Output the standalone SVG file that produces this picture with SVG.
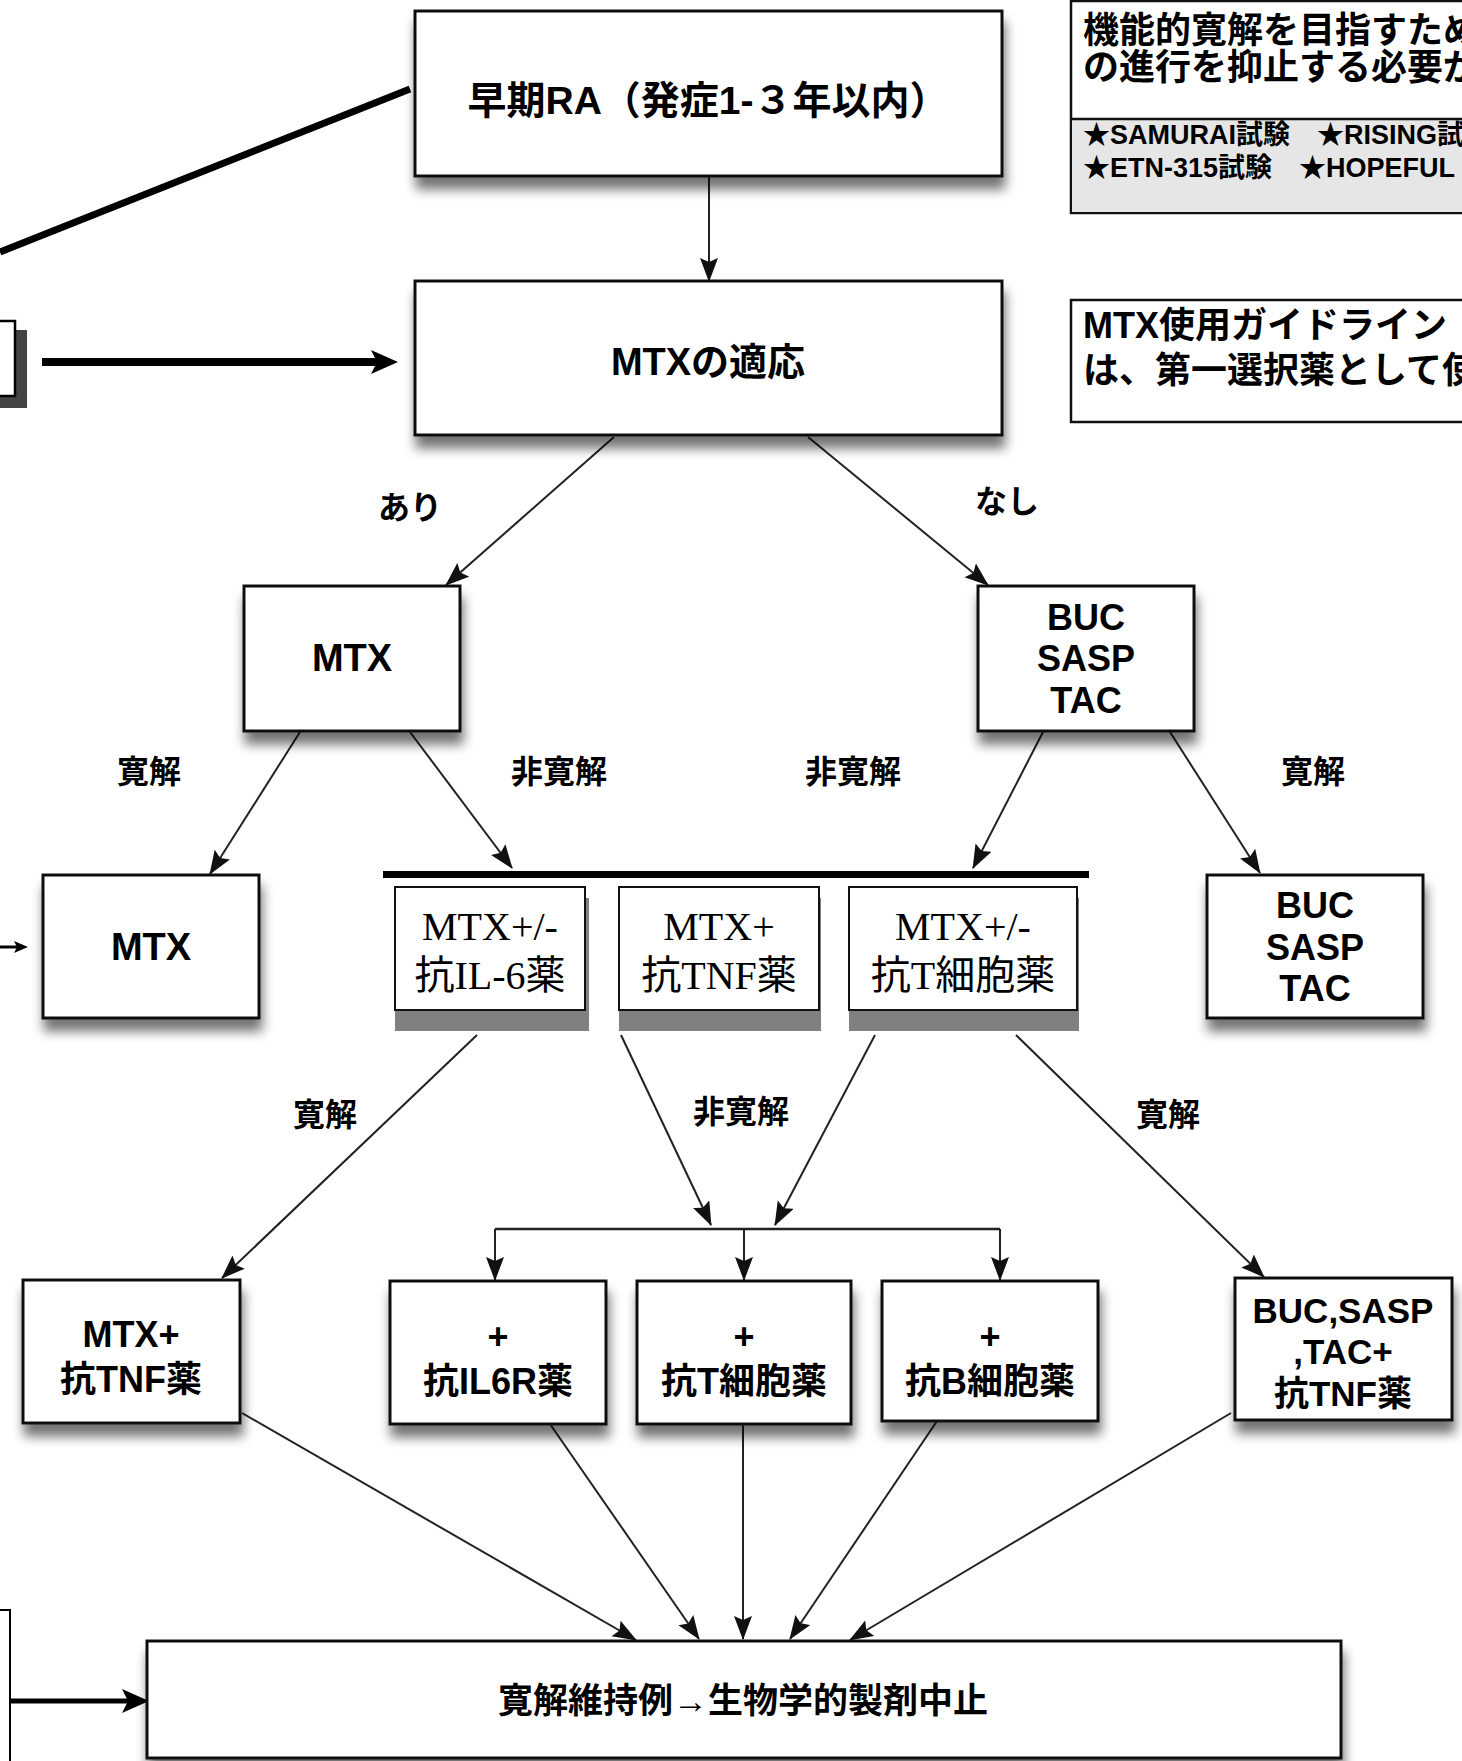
<svg xmlns="http://www.w3.org/2000/svg" width="1462" height="1761" viewBox="0 0 1462 1761">
<defs>
<style>
.box{fill:#fff;stroke:#111;stroke-width:3}
.sbox{fill:#fff;stroke:#111;stroke-width:2}
.note{fill:#fff;stroke:#111;stroke-width:2.5}
.t{font-family:"Liberation Sans","Noto Sans CJK JP",sans-serif;font-weight:bold;fill:#000;text-anchor:middle;dominant-baseline:central}
.tn{font-family:"Liberation Sans","Noto Sans CJK JP",sans-serif;font-weight:bold;fill:#000;dominant-baseline:central}
.ts{font-family:"Liberation Serif","Noto Sans CJK JP",serif;fill:#000;text-anchor:middle;dominant-baseline:central;font-size:40px}
.c{fill:none;stroke:#222;stroke-width:2;marker-end:url(#ah)}
.lbl{font-size:32px}
</style>
<filter id="sh" x="-15%" y="-20%" width="135%" height="160%">
<feGaussianBlur in="SourceAlpha" stdDeviation="6"/>
<feOffset dx="2" dy="12"/>
<feComponentTransfer><feFuncA type="linear" slope="0.55"/></feComponentTransfer>
<feMerge><feMergeNode/><feMergeNode in="SourceGraphic"/></feMerge>
</filter>
<marker id="ah" markerUnits="userSpaceOnUse" markerWidth="26" markerHeight="20" refX="23" refY="9" orient="auto">
<path d="M0,0 L24,9 L0,18 L4,9 z" fill="#111"/>
</marker>
<marker id="ahT" markerUnits="userSpaceOnUse" markerWidth="30" markerHeight="26" refX="13" refY="12" orient="auto">
<path d="M0,0 L27,12 L0,24 L6,12 z" fill="#000"/>
</marker>
<marker id="ahS" markerUnits="userSpaceOnUse" markerWidth="16" markerHeight="14" refX="6" refY="6" orient="auto">
<path d="M0,0 L14,6 L0,12 L3,6 z" fill="#000"/>
</marker>
</defs>

<g id="connectors">
<line x1="0" y1="252" x2="410" y2="89" stroke="#000" stroke-width="7"/>
<line x1="42" y1="362" x2="384" y2="362" stroke="#000" stroke-width="8" marker-end="url(#ahT)"/>
<line x1="10" y1="1701" x2="135" y2="1701" stroke="#000" stroke-width="5" marker-end="url(#ahT)"/>
<line x1="0" y1="947" x2="20" y2="947" stroke="#000" stroke-width="3" marker-end="url(#ahS)"/>
<line class="c" x1="709" y1="176" x2="709" y2="281"/>
<line class="c" x1="614" y1="437" x2="446" y2="585"/>
<line class="c" x1="808" y1="437" x2="988" y2="585"/>
<line class="c" x1="300" y1="732" x2="210" y2="874"/>
<line class="c" x1="410" y1="732" x2="512" y2="868"/>
<line class="c" x1="1043" y1="732" x2="973" y2="868"/>
<line class="c" x1="1170" y1="732" x2="1260" y2="873"/>
<rect x="383" y="871" width="706" height="7" fill="#000"/>
<line class="c" x1="477" y1="1035" x2="222" y2="1278"/>
<line class="c" x1="621" y1="1035" x2="711" y2="1225"/>
<line class="c" x1="875" y1="1035" x2="775" y2="1225"/>
<line class="c" x1="1016" y1="1035" x2="1264" y2="1277"/>
<path d="M495,1229 H1000" fill="none" stroke="#222" stroke-width="2.5"/>
<line class="c" x1="495" y1="1229" x2="495" y2="1280"/>
<line class="c" x1="744" y1="1229" x2="744" y2="1280"/>
<line class="c" x1="1000" y1="1229" x2="1000" y2="1280"/>
<line class="c" x1="242" y1="1413" x2="636" y2="1640"/>
<line class="c" x1="550" y1="1424" x2="699" y2="1639"/>
<line class="c" x1="743" y1="1424" x2="743" y2="1639"/>
<line class="c" x1="937" y1="1421" x2="790" y2="1639"/>
<line class="c" x1="1231" y1="1413" x2="850" y2="1640"/>
<text class="t lbl" x="410" y="508">あり</text>
<text class="t lbl" x="1007" y="502">なし</text>
<text class="t lbl" x="149" y="772">寛解</text>
<text class="t lbl" x="559" y="772">非寛解</text>
<text class="t lbl" x="853" y="772">非寛解</text>
<text class="t lbl" x="1313" y="772">寛解</text>
<text class="t lbl" x="325" y="1115">寛解</text>
<text class="t lbl" x="741" y="1112">非寛解</text>
<text class="t lbl" x="1168" y="1115">寛解</text>
</g>

<g id="left-box-top">
<rect x="-10" y="330" width="37" height="78" fill="#444"/>
<rect x="-10" y="321" width="25" height="75" fill="#fff" stroke="#000" stroke-width="2.5"/>
</g>
<g id="left-box-bottom">
<rect x="-10" y="1610" width="20" height="200" fill="#fff" stroke="#000" stroke-width="2"/>
</g>

<g id="n-early">
<rect class="box" x="415" y="11" width="587" height="165" filter="url(#sh)"/>
<text class="t" x="708" y="100" font-size="39">早期RA（発症1-３年以内）</text>
</g>
<g id="n-indication">
<rect class="box" x="415" y="281" width="587" height="154" filter="url(#sh)"/>
<text class="t" x="708" y="362" font-size="38">MTXの適応</text>
</g>

<g id="note-remission">
<rect class="note" x="1071" y="1" width="420" height="212"/>
<rect x="1072" y="119" width="400" height="93" fill="#e6e6e6"/>
<line x1="1071" y1="119" x2="1462" y2="119" stroke="#111" stroke-width="2.5"/>
<text class="tn" x="1083" y="30" font-size="36">機能的寛解を目指すため</text>
<text class="tn" x="1083" y="67" font-size="36">の進行を抑止する必要が</text>
<text class="tn" x="1083" y="135" font-size="27">★SAMURAI試験　★RISING試</text>
<text class="tn" x="1083" y="168" font-size="27">★ETN-315試験　★HOPEFUL</text>
</g>
<g id="note-guideline">
<rect class="note" x="1071" y="300" width="420" height="122"/>
<text class="tn" x="1083" y="325" font-size="36">MTX使用ガイドライン</text>
<text class="tn" x="1083" y="370" font-size="36">は、第一選択薬として使</text>
</g>

<g id="n-mtx">
<rect class="box" x="244" y="586" width="216" height="145" filter="url(#sh)"/>
<text class="t" x="352" y="658" font-size="38">MTX</text>
</g>
<g id="n-buc">
<rect class="box" x="978" y="586" width="216" height="145" filter="url(#sh)"/>
<text class="t" x="1086" y="617" font-size="36">BUC</text>
<text class="t" x="1086" y="658" font-size="36">SASP</text>
<text class="t" x="1086" y="700" font-size="36">TAC</text>
</g>
<g id="n-mtx2">
<rect class="box" x="43" y="875" width="216" height="143" filter="url(#sh)"/>
<text class="t" x="151" y="947" font-size="38">MTX</text>
</g>
<g id="n-buc2">
<rect class="box" x="1207" y="875" width="216" height="143" filter="url(#sh)"/>
<text class="t" x="1315" y="905" font-size="36">BUC</text>
<text class="t" x="1315" y="947" font-size="36">SASP</text>
<text class="t" x="1315" y="988" font-size="36">TAC</text>
</g>

<g id="n-il6">
<rect x="395" y="898" width="194" height="133" fill="#808080"/>
<rect class="sbox" x="395" y="887" width="190" height="123"/>
<text class="ts" x="490" y="926">MTX+/-</text>
<text class="ts" x="490" y="975">抗IL-6薬</text>
</g>
<g id="n-tnf">
<rect x="619" y="898" width="202" height="133" fill="#808080"/>
<rect class="sbox" x="619" y="887" width="200" height="123"/>
<text class="ts" x="719" y="926">MTX+</text>
<text class="ts" x="719" y="975">抗TNF薬</text>
</g>
<g id="n-tcell">
<rect x="849" y="898" width="230" height="133" fill="#808080"/>
<rect class="sbox" x="849" y="887" width="228" height="123"/>
<text class="ts" x="963" y="926">MTX+/-</text>
<text class="ts" x="963" y="975">抗T細胞薬</text>
</g>

<g id="n-mtx-tnf">
<rect class="box" x="23" y="1280" width="217" height="143" filter="url(#sh)"/>
<text class="t" x="131" y="1334" font-size="36">MTX+</text>
<text class="t" x="131" y="1379" font-size="36">抗TNF薬</text>
</g>
<g id="n-il6r">
<rect class="box" x="390" y="1281" width="216" height="143" filter="url(#sh)"/>
<text class="t" x="498" y="1336" font-size="36">+</text>
<text class="t" x="498" y="1381" font-size="36">抗IL6R薬</text>
</g>
<g id="n-tcell2">
<rect class="box" x="637" y="1281" width="214" height="143" filter="url(#sh)"/>
<text class="t" x="744" y="1336" font-size="36">+</text>
<text class="t" x="744" y="1381" font-size="36">抗T細胞薬</text>
</g>
<g id="n-bcell">
<rect class="box" x="882" y="1281" width="216" height="140" filter="url(#sh)"/>
<text class="t" x="990" y="1336" font-size="36">+</text>
<text class="t" x="990" y="1381" font-size="36">抗B細胞薬</text>
</g>
<g id="n-buc-tnf">
<rect class="box" x="1235" y="1278" width="217" height="142" filter="url(#sh)"/>
<text class="t" x="1343" y="1310" font-size="35">BUC,SASP</text>
<text class="t" x="1343" y="1351" font-size="35">,TAC+</text>
<text class="t" x="1343" y="1393" font-size="35">抗TNF薬</text>
</g>

<g id="n-final">
<rect class="box" x="147" y="1641" width="1194" height="117" filter="url(#sh)"/>
<text class="t" x="743" y="1700" font-size="35">寛解維持例→生物学的製剤中止</text>
</g>
</svg>
